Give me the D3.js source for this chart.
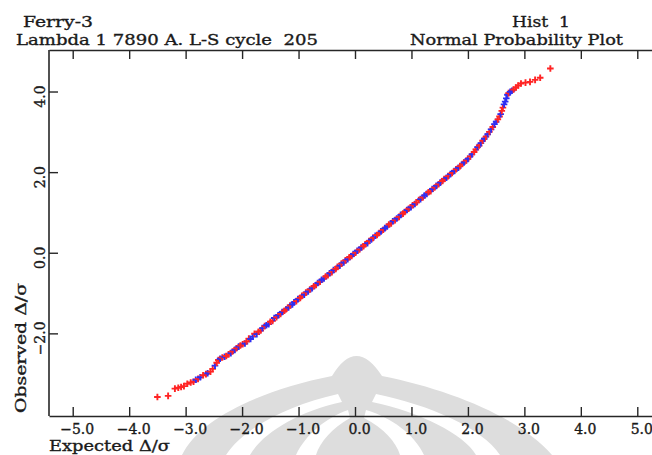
<!DOCTYPE html>
<html><head><meta charset="utf-8">
<script src="https://cdn.jsdelivr.net/npm/d3@7/dist/d3.min.js"></script>
<style>
html,body{margin:0;padding:0;background:#fff;}
svg{display:block;}
text{font-family:"DejaVu Serif","Liberation Serif",serif;fill:#1a1a1a;stroke:#1a1a1a;stroke-width:0.35px;white-space:pre;}
</style></head>
<body>
<svg id="c" width="652" height="455"></svg>
<script>
// ---- data ----
const xTicks = [-5, -4, -3, -2, -1, 0, 1, 2, 3, 4, 5];
const yTicks = [-2, 0, 2, 4];
const titleLeft1 = "Ferry-3";
const titleLeft2 = "Lambda 1 7890 A. L-S cycle  205";
const titleRight1 = "Hist  1";
const titleRight2 = "Normal Probability Plot";
const xLabel = "Expected \u0394/\u03c3";
const yLabel = "Observed \u0394/\u03c3";

// [expected, observed]
const redPoints = [
 [-3.50,-3.58],[-3.31,-3.55],[-3.19,-3.37],[-3.13,-3.35],[-3.08,-3.33],[-3.03,-3.31],[-2.97,-3.25],[-2.91,-3.22],[-2.86,-3.20],[-2.78,-3.13],[-2.69,-3.04],[-2.64,-3.01],[-2.56,-2.95],[-2.52,-2.88],[-2.45,-2.73],[-2.42,-2.66],[-2.35,-2.60],[-2.28,-2.56],[-2.24,-2.52],[-2.17,-2.45],[-2.10,-2.37],[-2.03,-2.30],
 [-1.99,-2.27],[-1.92,-2.20],[-1.88,-2.13],[-1.78,-2.01],[-1.71,-1.96],[-1.67,-1.93],[-1.60,-1.82],[-1.50,-1.71],[-1.46,-1.69],[-1.39,-1.60],[-1.32,-1.52],[-1.25,-1.44],[-1.22,-1.40],[-1.15,-1.31],[-1.04,-1.20],[-0.97,-1.12],[-0.94,-1.07],[-0.87,-0.99],[-0.80,-0.91],[-0.73,-0.83],[-0.69,-0.80],[-0.62,-0.72],[-0.52,-0.59],[-0.48,-0.56],[-0.41,-0.48],[-0.34,-0.40],[-0.31,-0.35],[-0.24,-0.27],[-0.17,-0.19],[-0.10,-0.11],[-0.06,-0.08],[0.01,0.00],[0.08,0.08],[0.15,0.16],[0.18,0.21],[0.25,0.29],[0.32,0.37],[0.39,0.44],[0.43,0.49],[0.50,0.57],[0.60,0.70],[0.64,0.73],[0.71,0.81],[0.78,0.89],[0.85,0.97],[0.88,1.01],[0.95,1.09],[1.02,1.18],[1.09,1.25],[1.13,1.31],[1.20,1.37],[1.30,1.50],[1.34,1.53],[1.41,1.62],[1.48,1.70],[1.55,1.78],[1.58,1.83],[1.65,1.90],[1.72,1.98],[1.79,2.07],[1.86,2.15],[1.90,2.20],[1.97,2.29],
 [2.04,2.39],[2.11,2.50],[2.14,2.56],[2.20,2.66],[2.26,2.78],[2.32,2.88],[2.38,3.00],[2.44,3.12],[2.53,3.31],[2.56,3.38],[2.60,3.52],[2.62,3.60],[2.72,3.96],[2.81,4.05],[2.85,4.10],[2.89,4.15],[2.94,4.20],[3.02,4.22],[3.10,4.24],[3.19,4.29],[3.28,4.34],[3.46,4.57]
];
const bluePoints = [
 [-2.82,-3.15],[-2.74,-3.09],[-2.61,-2.99],[-2.48,-2.80],[-2.39,-2.63],[-2.31,-2.58],[-2.20,-2.49],[-2.13,-2.41],[-2.06,-2.33],
 [-1.95,-2.25],[-1.85,-2.14],[-1.81,-2.08],[-1.74,-2.02],[-1.64,-1.87],[-1.57,-1.80],[-1.53,-1.77],[-1.43,-1.62],[-1.36,-1.55],[-1.29,-1.47],[-1.18,-1.36],[-1.11,-1.28],[-1.08,-1.23],[-1.01,-1.15],[-0.90,-1.04],[-0.83,-0.96],[-0.76,-0.88],[-0.66,-0.75],[-0.59,-0.67],[-0.55,-0.64],[-0.45,-0.51],[-0.38,-0.43],[-0.27,-0.32],[-0.20,-0.24],[-0.13,-0.16],[-0.03,-0.03],[0.04,0.05],[0.11,0.13],[0.22,0.24],[0.29,0.33],[0.36,0.42],[0.46,0.53],[0.53,0.61],[0.57,0.65],[0.67,0.78],[0.74,0.85],[0.81,0.94],[0.92,1.06],[0.99,1.13],[1.06,1.21],[1.16,1.33],[1.23,1.42],[1.27,1.46],[1.37,1.58],[1.44,1.66],[1.51,1.74],[1.62,1.86],[1.69,1.95],[1.76,2.03],[1.83,2.11],[1.93,2.24],
 [2.00,2.33],[2.07,2.44],[2.17,2.62],[2.23,2.72],[2.29,2.83],[2.35,2.94],[2.41,3.06],[2.47,3.19],[2.50,3.25],[2.58,3.44],[2.64,3.68],[2.66,3.75],[2.68,3.83],[2.70,3.92],[2.75,3.99],[2.78,4.02]
];

// ---- drawing ----
const svg = d3.select("#c");
const L = 49, R = 661, T = 50, B = 416;
const x = d3.scaleLinear().domain([-5.42, 5.42]).range([L, R]);
const y = d3.scaleLinear().domain([-4.05, 5.03]).range([B, T]);
const ink = "#262626";

// watermark (light grey logo behind the chart)
const wm = svg.append("g").attr("fill", "#dddddd");
wm.append("path").attr("d", "M182,455 C200,418 262,390 332,376 Q356,336 382,376 C452,390 520,418 552,455 Z");
const wmw = svg.append("g").attr("fill", "#fff");
wmw.append("path").attr("d", "M226,455 C244,428 288,405 338,394 L342,402 C296,412 262,434 250,455 Z");
wmw.append("path").attr("d", "M500,455 C482,428 430,405 376,394 L372,402 C420,412 464,434 476,455 Z");
wmw.append("path").attr("d", "M296,455 C306,434 326,418 348,410 L350,418 C332,428 320,442 316,455 Z");
wmw.append("path").attr("d", "M424,455 C414,434 392,418 366,410 L364,418 C384,428 396,442 400,455 Z");

// left frame line
svg.append("line").attr("x1", L).attr("x2", L).attr("y1", T).attr("y2", B).attr("stroke", ink).attr("stroke-width", 1.6);

// bottom axis
const gx = svg.append("g").attr("transform", `translate(0,${B})`)
  .call(d3.axisBottom(x).tickValues(xTicks).tickSizeInner(-9).tickSizeOuter(0).tickPadding(8).tickFormat(d3.format(".1f")));
gx.select(".domain").attr("stroke", ink).attr("stroke-width", 1.6);
gx.selectAll(".tick line").attr("stroke", ink).attr("stroke-width", 1.4);
gx.selectAll(".tick text").attr("font-size", 14).attr("dx", 4).attr("fill", ink)
  .style("font-family", "DejaVu Serif");

// top axis (ticks only)
const gt = svg.append("g").attr("transform", `translate(0,${T})`)
  .call(d3.axisTop(x).tickValues(xTicks).tickSizeInner(-9).tickSizeOuter(0).tickFormat(""));
gt.select(".domain").attr("stroke", ink).attr("stroke-width", 1.6);
gt.selectAll(".tick line").attr("stroke", ink).attr("stroke-width", 1.4);

// left axis ticks
const gy = svg.append("g").attr("transform", `translate(${L},0)`)
  .call(d3.axisLeft(y).tickValues(yTicks).tickSizeInner(-9).tickSizeOuter(0).tickFormat(""));
gy.select(".domain").remove();
gy.selectAll(".tick line").attr("stroke", ink).attr("stroke-width", 1.4);

// rotated y tick labels
svg.append("g").selectAll("text").data(yTicks).join("text")
  .attr("transform", d => `translate(45,${y(d)}) rotate(-90)`)
  .attr("text-anchor", "middle").attr("dx", -5)
  .attr("font-size", 14)
  .text(d => d3.format(".1f")(d));

// axis titles
svg.append("text").attr("x", 49).attr("y", 451).attr("font-size", 15)
  .attr("textLength", 121).attr("lengthAdjust", "spacingAndGlyphs").text(xLabel);
svg.append("text").attr("transform", "translate(26,413) rotate(-90)").attr("font-size", 15)
  .attr("textLength", 130).attr("lengthAdjust", "spacingAndGlyphs").text(yLabel);

// chart titles
const titles = [
  [titleLeft1, 23, 27, 70],
  [titleLeft2, 16, 45, 302],
  [titleRight1, 512, 27, 58],
  [titleRight2, 410, 45, 213]
];
svg.append("g").selectAll("text").data(titles).join("text")
  .attr("x", d => d[1]).attr("y", d => d[2]).attr("font-size", 15)
  .attr("xml:space", "preserve")
  .attr("textLength", d => d[3]).attr("lengthAdjust", "spacingAndGlyphs")
  .text(d => d[0]);

// points
const all = redPoints.map(p => ({p, c: "#ff2424"}))
  .concat(bluePoints.map(p => ({p, c: "#2e2ef2"})))
  .sort((a, b) => a.p[0] - b.p[0]);
svg.append("g").selectAll("path").data(all).join("path")
  .attr("transform", d => `translate(${x(d.p[0])},${y(d.p[1])})`)
  .attr("d", "M-3.3,0H3.3M0,-3.3V3.3")
  .attr("stroke", d => d.c).attr("stroke-width", 1.9).attr("fill", "none");
</script>
</body></html>
